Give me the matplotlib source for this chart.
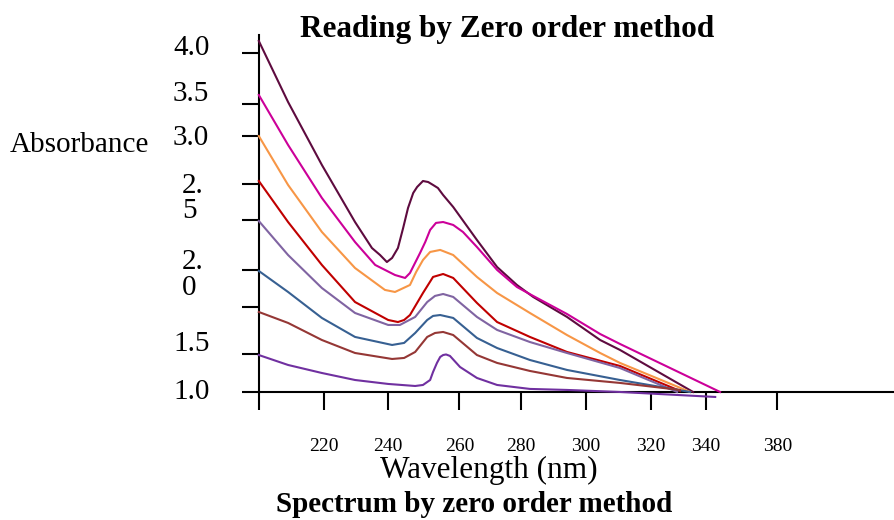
import matplotlib.pyplot as plt

plt.rcParams['font.family'] = ['Liberation Serif', 'DejaVu Serif']

# wavelength (nm) / absorbance, one pair of lists per curve
wl_1 = [200, 209.0, 219.4, 229.6, 234.8, 237.3, 239.4, 241.0, 242.8, 244.4, 245.9, 247.5,
        248.7, 250.5, 252.1, 253.6, 255.1, 256.7, 259.8, 267.1, 273.3, 279.4, 284.4, 294.8,
        305.0, 311.1, 333.6]
ab_1 = [4.106, 3.566, 3.009, 2.504, 2.274, 2.212, 2.150, 2.186, 2.274, 2.451, 2.628, 2.761,
        2.814, 2.867, 2.858, 2.832, 2.805, 2.743, 2.637, 2.345, 2.106, 1.947, 1.841, 1.664,
        1.460, 1.372, 1.0]

wl_2 = [200, 209.0, 219.4, 229.6, 235.8, 241.9, 245.0, 246.5, 249.6, 251.2, 252.7, 254.5,
        256.7, 259.8, 262.8, 267.1, 273.3, 279.4, 284.4, 294.8, 305.0, 311.1, 341.9]
ab_2 = [3.628, 3.186, 2.717, 2.327, 2.124, 2.035, 2.009, 2.053, 2.230, 2.327, 2.434, 2.496,
        2.504, 2.478, 2.416, 2.283, 2.080, 1.929, 1.850, 1.690, 1.513, 1.425, 1.0]

wl_3 = [200, 209.0, 219.4, 229.6, 238.8, 241.9, 246.5, 248.4, 250.5, 252.7, 255.8, 259.8,
        267.1, 273.3, 283.4, 294.8, 305.0, 311.1, 332.7]
ab_3 = [3.265, 2.832, 2.416, 2.097, 1.903, 1.885, 1.947, 2.062, 2.168, 2.239, 2.257, 2.212,
        2.018, 1.876, 1.699, 1.504, 1.345, 1.257, 1.0]

wl_4 = [200, 209.0, 219.4, 229.6, 239.8, 242.8, 244.7, 246.5, 250.5, 253.6, 256.7, 259.8,
        267.1, 273.3, 283.4, 294.8, 311.1, 329.6]
ab_4 = [2.867, 2.504, 2.124, 1.796, 1.637, 1.619, 1.637, 1.681, 1.876, 2.018, 2.044, 2.009,
        1.788, 1.619, 1.487, 1.354, 1.230, 1.009]

wl_5 = [200, 209.0, 219.4, 229.6, 239.8, 243.4, 248.1, 251.8, 254.2, 256.7, 259.8, 267.1,
        273.3, 283.4, 294.8, 311.1, 328.7]
ab_5 = [2.513, 2.212, 1.920, 1.699, 1.593, 1.593, 1.664, 1.796, 1.850, 1.867, 1.841, 1.664,
        1.549, 1.442, 1.345, 1.212, 1.0]

wl_6 = [200, 209.0, 219.4, 229.6, 241.0, 244.7, 248.1, 251.8, 253.6, 255.8, 259.8, 267.1,
        273.3, 283.4, 294.8, 311.1, 332.7]
ab_6 = [2.071, 1.885, 1.655, 1.487, 1.416, 1.434, 1.522, 1.637, 1.673, 1.681, 1.655, 1.478,
        1.389, 1.283, 1.195, 1.106, 1.0]

wl_7 = [200, 209.0, 219.4, 229.6, 241.0, 244.7, 248.1, 251.8, 254.2, 256.7, 259.8, 267.1,
        273.3, 283.4, 294.8, 311.1, 329.6]
ab_7 = [1.708, 1.611, 1.460, 1.345, 1.292, 1.301, 1.354, 1.487, 1.522, 1.531, 1.504, 1.327,
        1.257, 1.186, 1.124, 1.080, 1.018]

wl_8 = [200, 209.0, 219.4, 229.6, 239.8, 248.1, 250.5, 252.7, 253.6, 254.8, 255.8, 256.7,
        257.6, 258.8, 261.9, 267.1, 273.3, 283.4, 294.8, 311.1, 340.4]
ab_8 = [1.327, 1.239, 1.168, 1.106, 1.071, 1.053, 1.062, 1.106, 1.177, 1.257, 1.310, 1.327,
        1.332, 1.319, 1.221, 1.124, 1.062, 1.027, 1.018, 1.0, 0.956]

series = [(wl_1, ab_1), (wl_2, ab_2), (wl_3, ab_3), (wl_4, ab_4),
          (wl_5, ab_5), (wl_6, ab_6), (wl_7, ab_7), (wl_8, ab_8)]
colors = ['#5e0b3f', '#cc0099', '#f79646', '#c00000',
          '#8064a2', '#376092', '#953735', '#7030a0']

# axis ticks as drawn (spacing on the original is uneven)
x_ticks = [200, 220, 239.6, 261.7, 280.7, 300.6, 320.5, 337.5, 359.5]
x_labels = ['', '220', '240', '260', '280', '300', '320', '340', '380']
y_ticks = [4.0, 3.546, 3.263, 2.838, 2.519, 2.081, 1.752, 1.336, 1.0]
# y labels sit where the original put them, some split over two lines
y_label_text = ['4.0', '3.5', '3.0', '2.', '5', '2.', '0', '1.5', '1.0']
y_label_pos = [3.982, 3.575, 3.186, 2.761, 2.540, 2.088, 1.858, 1.363, 0.938]
y_label_x = [173.6, 173.6, 173.6, 176.4, 176.4, 176.4, 176.4, 173.6, 173.6]

fig = plt.figure(figsize=(8.94, 5.2), dpi=100)
ax = fig.add_axes([0.2895, 0.2462, 0.7105, 0.6865])

for (wl, ab), c in zip(series, colors):
    ax.plot(wl, ab, color=c, lw=1.5, clip_on=False, zorder=3,
            solid_joinstyle='round')

ax.set_xlim(200, 395.4)
ax.set_ylim(1.0, 4.159)
for s in ['top', 'right']:
    ax.spines[s].set_visible(False)
for s in ['left', 'bottom']:
    ax.spines[s].set_linewidth(1.5)

ax.set_xticks(x_ticks)
ax.set_xticklabels(x_labels, fontsize=14)
ax.tick_params(axis='x', length=13, width=1.5, pad=20)
ax.set_yticks(y_ticks)
ax.set_yticklabels([])
ax.tick_params(axis='y', length=12, width=1.5)

for t, y, x in zip(y_label_text, y_label_pos, y_label_x):
    ax.text(x, y, t, fontsize=21, ha='left', va='baseline', clip_on=False)

fig.text(10 / 894, 1 - 152 / 520, 'Absorbance', fontsize=21, ha='left', va='baseline')
fig.text(507.5 / 894, 1 - 37 / 520, 'Reading by Zero order method',
         fontsize=22.5, fontweight='bold', ha='center', va='baseline')
fig.text(489 / 894, 1 - 478 / 520, 'Wavelength (nm)', fontsize=22.5, ha='center', va='baseline')
fig.text(474 / 894, 1 - 512 / 520, 'Spectrum by zero order method',
         fontsize=21, fontweight='bold', ha='center', va='baseline')

fig.savefig('out.png', dpi=100)
